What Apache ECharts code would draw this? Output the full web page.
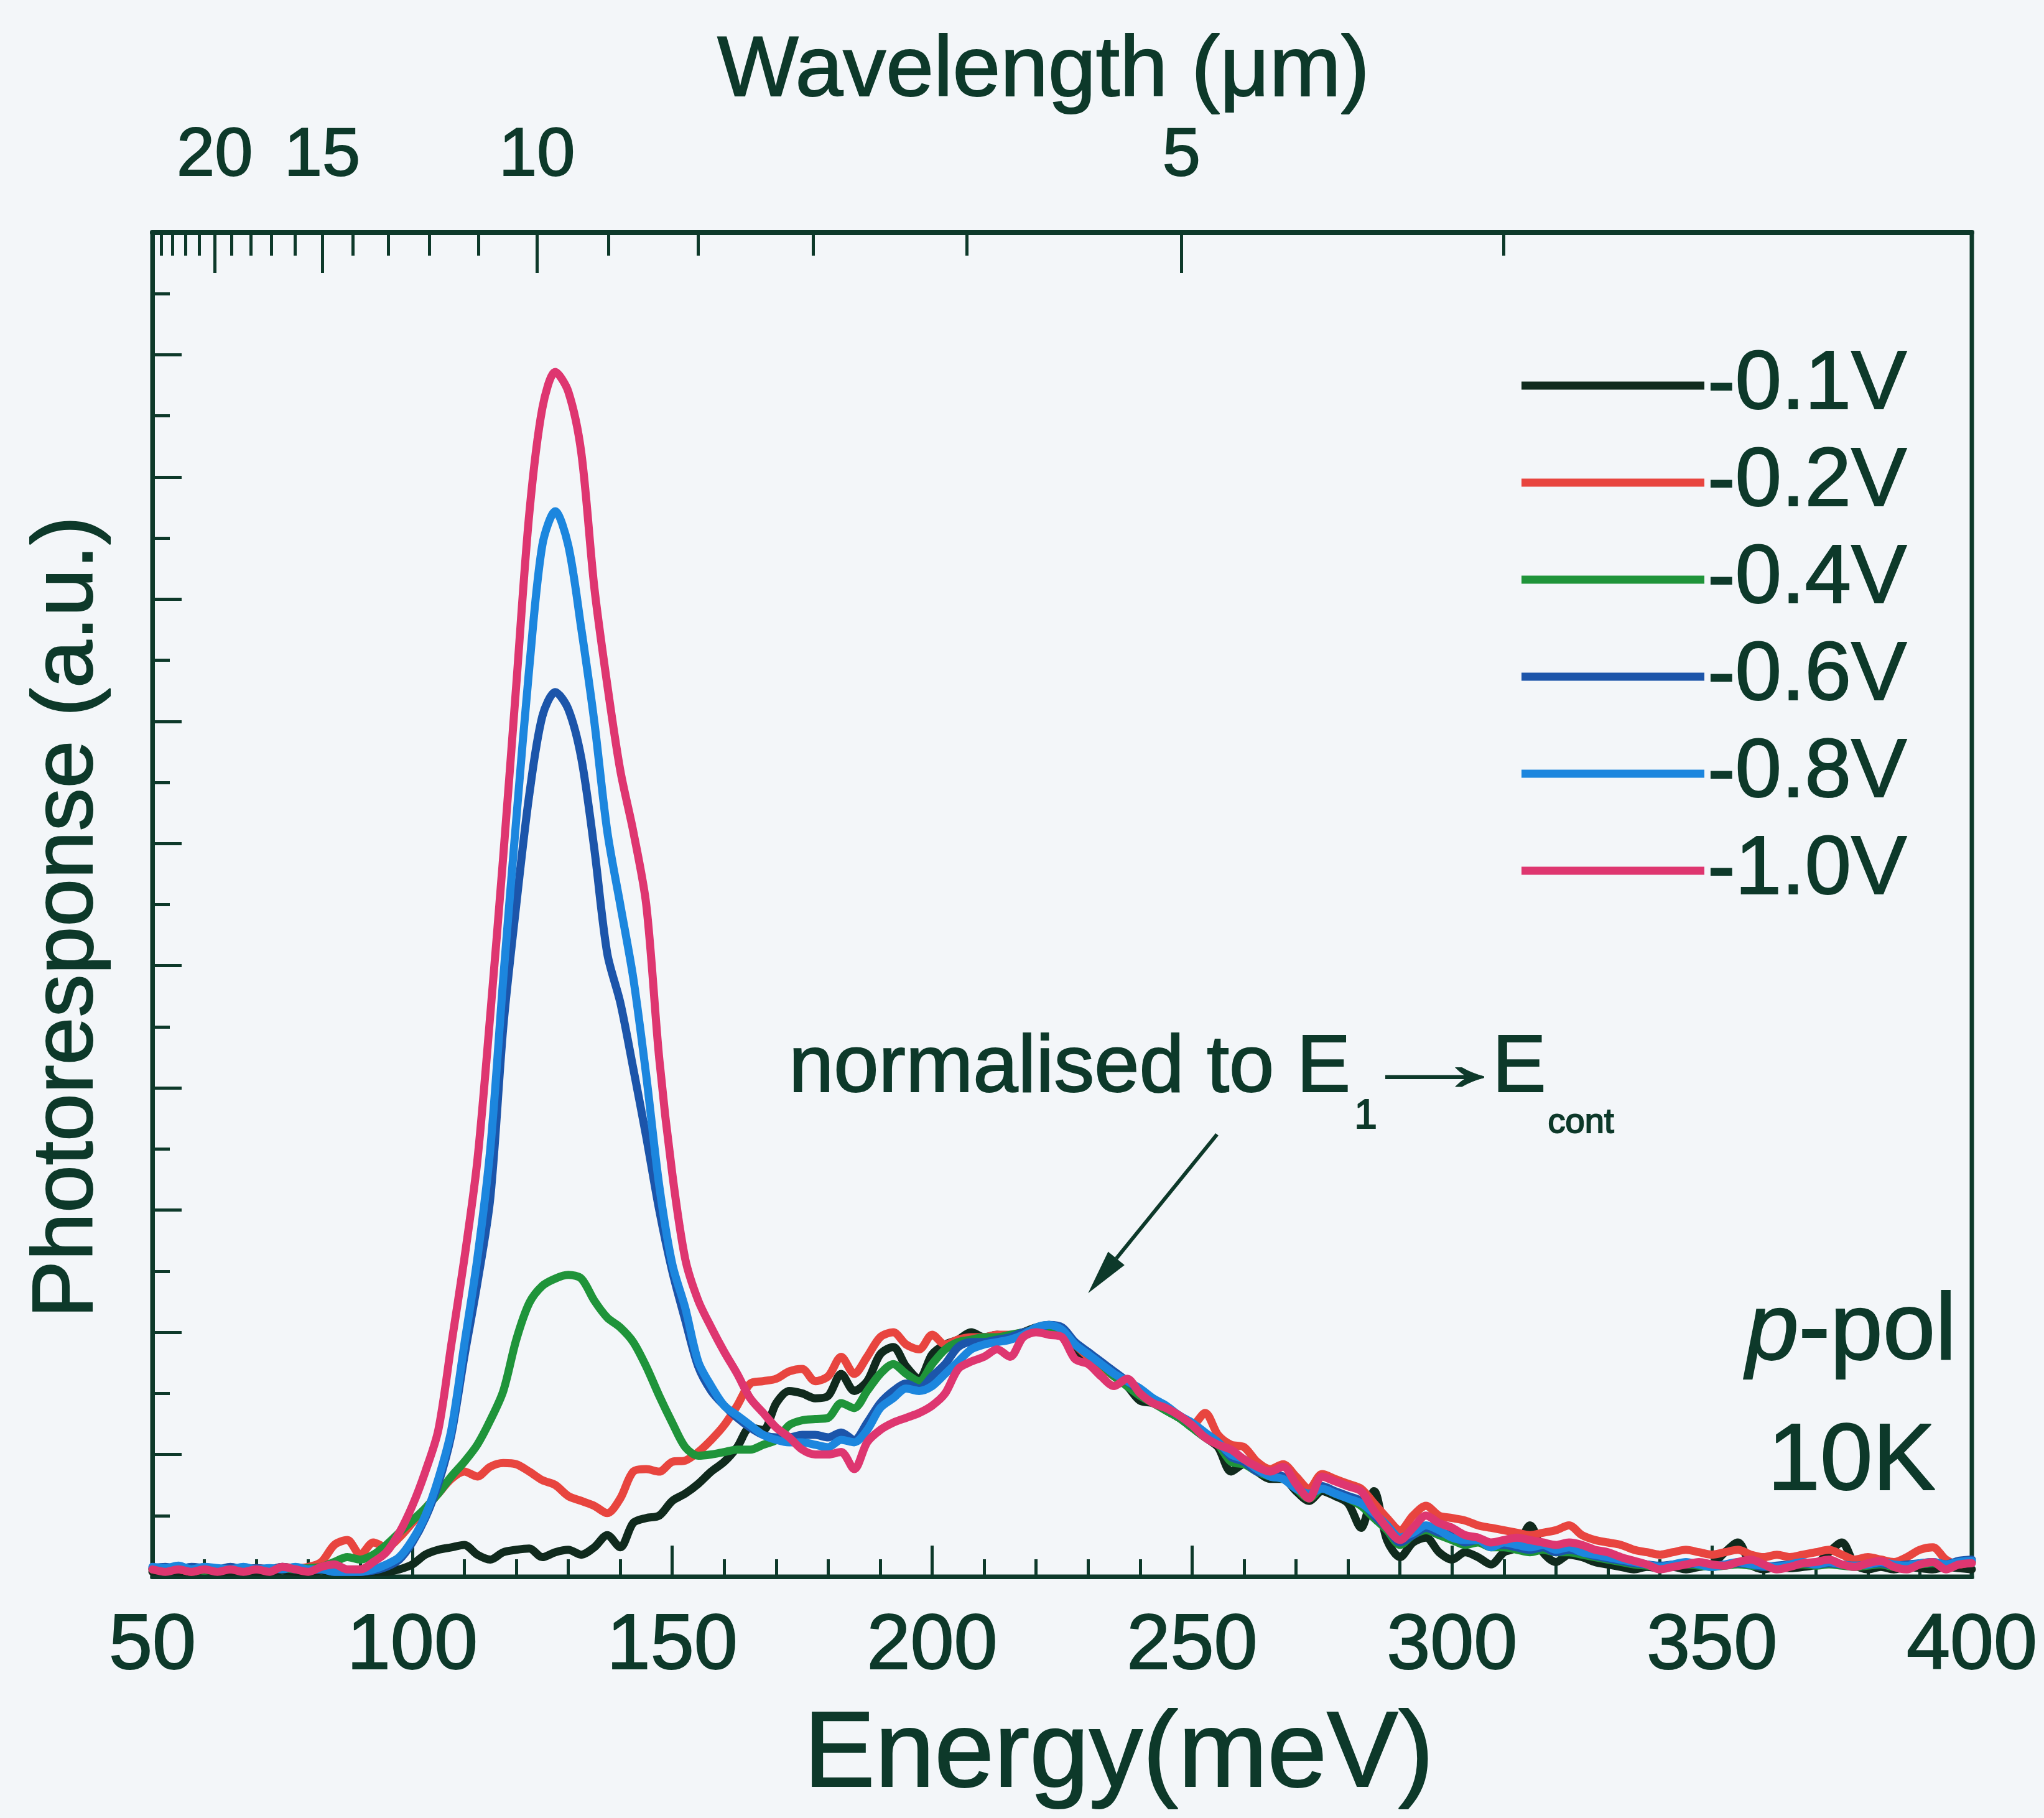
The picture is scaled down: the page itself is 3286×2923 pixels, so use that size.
<!DOCTYPE html>
<html>
<head>
<meta charset="utf-8">
<title>Photoresponse vs energy</title>
<script src="https://cdn.jsdelivr.net/npm/echarts@6/dist/echarts.min.js"></script>
<style>
  html, body { margin: 0; padding: 0; background: #f3f6f9; }
  #chart { width: 3286px; height: 2923px; }
</style>
</head>
<body>
<div id="chart"></div>
<script>
// Photon energy grid (meV)
const energy = [
  50, 52.5, 55, 57.5, 60, 62.5, 65, 67.5, 70, 72.5,
  75, 77.5, 80, 82.5, 85, 87.5, 90, 92.5, 95, 97.5,
  100, 102.5, 105, 107.5, 110, 112.5, 115, 117.5, 120, 122.5,
  125, 127.5, 130, 132.5, 135, 137.5, 140, 142.5, 145, 147.5,
  150, 152.5, 155, 157.5, 160, 162.5, 165, 167.5, 170, 172.5,
  175, 177.5, 180, 182.5, 185, 187.5, 190, 192.5, 195, 197.5,
  200, 202.5, 205, 207.5, 210, 212.5, 215, 217.5, 220, 222.5,
  225, 227.5, 230, 232.5, 235, 237.5, 240, 242.5, 245, 247.5,
  250, 252.5, 255, 257.5, 260, 262.5, 265, 267.5, 270, 272.5,
  275, 277.5, 280, 282.5, 285, 287.5, 290, 292.5, 295, 297.5,
  300, 302.5, 305, 307.5, 310, 312.5, 315, 317.5, 320, 322.5,
  325, 327.5, 330, 332.5, 335, 337.5, 340, 342.5, 345, 347.5,
  350, 352.5, 355, 357.5, 360, 362.5, 365, 367.5, 370, 372.5,
  375, 377.5, 380, 382.5, 385, 387.5, 390, 392.5, 395, 397.5,
  400
];

// Bias voltages (legend order)
const biasLabels = ['-0.1V', '-0.2V', '-0.4V', '-0.6V', '-0.8V', '-1.0V'];

// Photoresponse, normalised to the E1 -> Econt peak
const resp01 = [
  0.02, 0.025, 0.02, 0.02, 0.025, 0.02, 0.02, 0.025, 0.02, 0.02,
  0.025, 0.02, 0.02, 0.025, 0.02, 0.02, 0.015, 0.02, 0.02, 0.03,
  0.05, 0.09, 0.11, 0.12, 0.13, 0.09, 0.07, 0.10, 0.11, 0.115,
  0.08, 0.10, 0.11, 0.09, 0.12, 0.17, 0.12, 0.22, 0.24, 0.25,
  0.31, 0.34, 0.38, 0.43, 0.47, 0.53, 0.61, 0.60, 0.71, 0.76,
  0.75, 0.73, 0.74, 0.83, 0.76, 0.80, 0.91, 0.94, 0.86, 0.81,
  0.91, 0.95, 0.97, 1.00, 0.98, 0.99, 0.98, 1.00, 1.02, 1.03,
  1.00, 0.92, 0.90, 0.86, 0.82, 0.78, 0.72, 0.71, 0.68, 0.65,
  0.61, 0.57, 0.53, 0.43, 0.46, 0.43, 0.40, 0.40, 0.35, 0.31,
  0.35, 0.33, 0.30, 0.20, 0.35, 0.15, 0.08, 0.14, 0.16, 0.10,
  0.07, 0.10, 0.08, 0.05, 0.10, 0.12, 0.21, 0.10, 0.06, 0.09,
  0.08, 0.06, 0.05, 0.04, 0.03, 0.04, 0.035, 0.04, 0.03, 0.04,
  0.05, 0.10, 0.14, 0.05, 0.03, 0.04, 0.035, 0.04, 0.05, 0.10,
  0.14, 0.05, 0.03, 0.04, 0.03, 0.04, 0.035, 0.03, 0.04, 0.035,
  0.03
];
const resp02 = [
  0.03, 0.025, 0.03, 0.02, 0.03, 0.025, 0.03, 0.03, 0.035, 0.03,
  0.04, 0.035, 0.04, 0.06, 0.13, 0.15, 0.09, 0.14, 0.12, 0.16,
  0.22, 0.28, 0.34, 0.40, 0.43, 0.41, 0.45, 0.465, 0.46, 0.43,
  0.395, 0.375, 0.33, 0.31, 0.29, 0.26, 0.32, 0.43, 0.44, 0.43,
  0.47, 0.475, 0.51, 0.56, 0.62, 0.70, 0.79, 0.80, 0.81, 0.84,
  0.85, 0.80, 0.82, 0.90, 0.83, 0.90, 0.98, 1.00, 0.95, 0.93,
  0.99, 0.95, 0.97, 0.98, 0.98, 0.99, 0.99, 1.00, 1.01, 1.02,
  1.00, 0.95, 0.90, 0.86, 0.82, 0.79, 0.75, 0.72, 0.69, 0.66,
  0.62, 0.67, 0.58, 0.54, 0.53, 0.47, 0.44, 0.46, 0.41, 0.36,
  0.42, 0.40, 0.38, 0.36, 0.30, 0.24, 0.19, 0.25, 0.29, 0.25,
  0.24, 0.23, 0.21, 0.20, 0.19, 0.18, 0.17, 0.18, 0.19, 0.21,
  0.17, 0.15, 0.14, 0.13, 0.11, 0.10, 0.09, 0.10, 0.11, 0.10,
  0.09, 0.10, 0.11, 0.09, 0.08, 0.09, 0.08, 0.09, 0.10, 0.11,
  0.09, 0.07, 0.08, 0.07, 0.06, 0.08, 0.11, 0.12, 0.07, 0.05,
  0.06
];
const resp04 = [
  0.03, 0.025, 0.03, 0.03, 0.025, 0.03, 0.03, 0.025, 0.03, 0.03,
  0.035, 0.03, 0.035, 0.04, 0.06, 0.08, 0.07, 0.09, 0.13, 0.18,
  0.23, 0.28, 0.34, 0.41, 0.47, 0.54, 0.64, 0.76, 0.97, 1.12,
  1.19, 1.22, 1.235, 1.22, 1.13, 1.06, 1.02, 0.96, 0.86, 0.74,
  0.63, 0.53, 0.495, 0.50, 0.51, 0.52, 0.52, 0.54, 0.56, 0.62,
  0.64, 0.645, 0.65, 0.71, 0.69, 0.76, 0.83, 0.87, 0.83, 0.80,
  0.87, 0.93, 0.96, 0.97, 0.98, 0.98, 0.99, 1.00, 1.01, 1.02,
  1.01, 0.95, 0.91, 0.87, 0.82, 0.78, 0.74, 0.71, 0.68, 0.65,
  0.61, 0.57, 0.54, 0.47, 0.46, 0.43, 0.41, 0.40, 0.36, 0.32,
  0.36, 0.34, 0.32, 0.29, 0.24, 0.19, 0.13, 0.17, 0.19, 0.17,
  0.15, 0.13, 0.14, 0.12, 0.12, 0.11, 0.10, 0.11, 0.10, 0.10,
  0.09, 0.08, 0.07, 0.06, 0.05, 0.045, 0.04, 0.045, 0.05, 0.045,
  0.04, 0.045, 0.05, 0.045, 0.04, 0.04, 0.045, 0.05, 0.045, 0.05,
  0.045, 0.04, 0.045, 0.05, 0.04, 0.045, 0.05, 0.055, 0.045, 0.055,
  0.06
];
const resp06 = [
  0.035, 0.04, 0.03, 0.04, 0.035, 0.03, 0.04, 0.03, 0.035, 0.03,
  0.04, 0.03, 0.025, 0.03, 0.02, 0.02, 0.02, 0.025, 0.04, 0.07,
  0.14, 0.24, 0.38, 0.58, 0.90, 1.20, 1.55, 2.25, 2.75, 3.20,
  3.52, 3.62, 3.55, 3.35, 2.98, 2.55, 2.35, 2.08, 1.80, 1.50,
  1.25, 1.05, 0.86, 0.76, 0.70, 0.65, 0.61, 0.58, 0.57, 0.57,
  0.58, 0.58, 0.57, 0.59, 0.56, 0.63, 0.71, 0.76, 0.79, 0.77,
  0.82, 0.87, 0.94, 0.96, 0.96, 0.97, 0.98, 1.00, 1.01, 1.03,
  1.02, 0.96, 0.92, 0.88, 0.84, 0.80, 0.76, 0.72, 0.69, 0.66,
  0.62, 0.58, 0.55, 0.49, 0.47, 0.43, 0.42, 0.41, 0.37, 0.33,
  0.37, 0.35, 0.33, 0.31, 0.25, 0.20, 0.14, 0.17, 0.20, 0.18,
  0.17, 0.14, 0.15, 0.13, 0.13, 0.12, 0.11, 0.12, 0.10, 0.11,
  0.10, 0.085, 0.075, 0.065, 0.055, 0.05, 0.045, 0.05, 0.055, 0.05,
  0.045, 0.05, 0.055, 0.05, 0.04, 0.045, 0.05, 0.055, 0.05, 0.055,
  0.05, 0.045, 0.05, 0.055, 0.045, 0.05, 0.055, 0.06, 0.05, 0.065,
  0.07
];
const resp08 = [
  0.04, 0.035, 0.045, 0.03, 0.04, 0.035, 0.03, 0.04, 0.03, 0.035,
  0.03, 0.04, 0.03, 0.03, 0.02, 0.02, 0.02, 0.03, 0.05, 0.08,
  0.15, 0.25, 0.40, 0.60, 0.95, 1.30, 1.75, 2.45, 3.10, 3.72,
  4.22, 4.36, 4.22, 3.88, 3.50, 3.05, 2.75, 2.45, 2.05, 1.60,
  1.28, 1.10, 0.88, 0.78, 0.70, 0.66, 0.62, 0.58, 0.56, 0.55,
  0.55, 0.54, 0.53, 0.56, 0.55, 0.60, 0.69, 0.73, 0.77, 0.76,
  0.78, 0.83, 0.88, 0.93, 0.95, 0.96, 0.97, 0.99, 1.02, 1.03,
  1.01, 0.95, 0.91, 0.87, 0.83, 0.80, 0.77, 0.73, 0.70, 0.66,
  0.63, 0.59, 0.55, 0.50, 0.48, 0.44, 0.41, 0.40, 0.36, 0.34,
  0.36, 0.34, 0.32, 0.30, 0.26, 0.21, 0.16, 0.18, 0.21, 0.19,
  0.16, 0.15, 0.15, 0.12, 0.14, 0.13, 0.12, 0.13, 0.11, 0.12,
  0.10, 0.09, 0.08, 0.07, 0.06, 0.05, 0.04, 0.05, 0.06, 0.05,
  0.04, 0.05, 0.06, 0.05, 0.045, 0.04, 0.05, 0.06, 0.05, 0.06,
  0.05, 0.045, 0.05, 0.06, 0.05, 0.045, 0.055, 0.06, 0.05, 0.06,
  0.065
];
const resp10 = [
  0.03, 0.02, 0.03, 0.02, 0.03, 0.02, 0.03, 0.02, 0.03, 0.02,
  0.04, 0.03, 0.02, 0.04, 0.05, 0.03, 0.03, 0.06, 0.10, 0.18,
  0.29, 0.43, 0.60, 0.95, 1.30, 1.70, 2.30, 2.95, 3.65, 4.35,
  4.78, 4.93, 4.85, 4.60, 4.05, 3.65, 3.30, 3.05, 2.75, 2.12,
  1.65, 1.30, 1.13, 1.02, 0.92, 0.83, 0.73, 0.67, 0.61, 0.57,
  0.52, 0.50, 0.50, 0.51, 0.44, 0.55, 0.60, 0.63, 0.65, 0.67,
  0.70, 0.75, 0.85, 0.88, 0.90, 0.93, 0.90, 0.98, 1.00, 0.99,
  0.98, 0.89, 0.87, 0.82, 0.78, 0.81, 0.75, 0.71, 0.69, 0.66,
  0.62, 0.57, 0.54, 0.52, 0.48, 0.45, 0.43, 0.45, 0.38, 0.32,
  0.41, 0.39, 0.37, 0.35, 0.27, 0.20, 0.15, 0.20, 0.25, 0.22,
  0.20, 0.17, 0.16, 0.14, 0.15, 0.16, 0.15, 0.14, 0.13, 0.14,
  0.13, 0.11, 0.10, 0.08, 0.065, 0.05, 0.03, 0.04, 0.05, 0.06,
  0.05, 0.045, 0.06, 0.07, 0.05, 0.03, 0.04, 0.055, 0.06, 0.07,
  0.05, 0.04, 0.055, 0.065, 0.04, 0.03, 0.05, 0.06, 0.03, 0.05,
  0.055
];
const responses = [resp01, resp02, resp04, resp06, resp08, resp10];

// Wavelength scale on the top axis (µm)
const wavelengthLabelled = [20, 15, 10, 5];
const wavelengthMinor = [24, 23, 22, 21, 19, 18, 17, 16, 14, 13, 12, 11, 9, 8, 7, 6, 4];

// Annotation arrow, in (energy, response) units
const arrowFrom = [254.8, 1.81];
const arrowTo = [230.0, 1.16];

const HC = 1239.84; // meV·µm
const ink = '#0d392a';
const font = "'Liberation Sans', Arial, Helvetica, sans-serif";
const lineColors = ['#102a1d', '#e8453f', '#1f943a', '#1c55aa', '#1c86de', '#de3670'];
// slightly heavier glyphs for axis / legend text
const textHeavy = { textBorderColor: ink, textBorderWidth: 2 };
// same effect for free-standing text elements
const strokeHeavy = { stroke: ink, lineWidth: 2 };

const toEnergy = (um) => HC / um;

const chart = echarts.init(document.getElementById('chart'), null, { renderer: 'canvas' });

const option = {
  backgroundColor: '#f3f6f9',
  animation: false,
  textStyle: { fontFamily: font, color: ink },
  grid: {
    left: 245, top: 374, width: 2925, height: 2161,
    show: true, borderColor: ink, borderWidth: 7, backgroundColor: 'transparent'
  },
  legend: {
    orient: 'vertical',
    left: 2441, top: 547,
    itemWidth: 294, itemHeight: 13, itemGap: 20,
    icon: 'rect',
    selectedMode: false,
    data: biasLabels,
    textStyle: Object.assign({ color: ink, fontSize: 134, fontFamily: font, lineHeight: 134 }, textHeavy)
  },
  xAxis: [
    {
      type: 'value', position: 'bottom', min: 50, max: 400, interval: 50,
      axisLine: { show: true, lineStyle: { color: ink, width: 7 } },
      axisTick: { show: true, inside: true, length: 50, lineStyle: { color: ink, width: 5 } },
      minorTick: { show: true, splitNumber: 5, length: 28, lineStyle: { color: ink, width: 5 } },
      splitLine: { show: false },
      axisLabel: Object.assign({
        color: ink, fontSize: 126, fontFamily: font, margin: 50,
        showMinLabel: true, showMaxLabel: true, hideOverlap: false
      }, textHeavy),
      name: 'Energy(meV)', nameLocation: 'middle', nameGap: 204,
      nameTextStyle: Object.assign({ color: ink, fontSize: 172, fontFamily: font, padding: [0, 0, 0, 182] }, textHeavy)
    },
    {
      type: 'value', position: 'top', min: 50, max: 400,
      axisLine: { show: true, lineStyle: { color: ink, width: 8 } },
      axisTick: {
        show: true, inside: true, length: 65, lineStyle: { color: ink, width: 5 },
        customValues: wavelengthLabelled.map(toEnergy)
      },
      axisLabel: Object.assign({
        show: true, color: ink, fontSize: 110, fontFamily: font, margin: 67,
        customValues: wavelengthLabelled.map(toEnergy),
        formatter: (v) => String(Math.round(HC / v))
      }, textHeavy),
      splitLine: { show: false },
      name: 'Wavelength (μm)', nameLocation: 'middle', nameGap: 189,
      nameTextStyle: Object.assign({ color: ink, fontSize: 138, fontFamily: font, padding: [0, 60, 0, 0] }, textHeavy)
    },
    {
      type: 'value', position: 'top', min: 50, max: 400,
      axisLine: { show: false },
      axisTick: {
        show: true, inside: true, length: 37, lineStyle: { color: ink, width: 5 },
        customValues: wavelengthMinor.map(toEnergy)
      },
      axisLabel: { show: false },
      splitLine: { show: false }
    }
  ],
  yAxis: [
    {
      type: 'value', min: 0, max: 5.5, interval: 0.5,
      axisLine: { show: true, lineStyle: { color: ink, width: 7 } },
      axisTick: { show: true, inside: true, length: 47, lineStyle: { color: ink, width: 5 } },
      minorTick: { show: true, splitNumber: 2, length: 28, lineStyle: { color: ink, width: 5 } },
      splitLine: { show: false },
      axisLabel: { show: false },
      name: 'Photoresponse (a.u.)', nameLocation: 'middle', nameGap: 66,
      nameTextStyle: Object.assign({ color: ink, fontSize: 138, fontFamily: font, padding: [0, 40, 0, 0] }, textHeavy)
    }
  ],
  series: biasLabels.map((label, k) => ({
    name: label,
    type: 'line',
    xAxisIndex: 0, yAxisIndex: 0,
    data: energy.map((e, i) => [e, responses[k][i]]),
    showSymbol: false, symbol: 'none',
    smooth: 0.3,
    silent: true,
    lineStyle: { color: lineColors[k], width: 13, join: 'round', cap: 'round' },
    itemStyle: { color: lineColors[k] },
    emphasis: { disabled: true },
    z: 2 + k
  }))
};

chart.setOption(option);

// Annotation: arrow to the E1 -> Econt maximum, labels and measurement conditions
const p0 = chart.convertToPixel({ seriesIndex: 0 }, arrowFrom);
const p1 = chart.convertToPixel({ seriesIndex: 0 }, arrowTo);
const ang = Math.atan2(p1[1] - p0[1], p1[0] - p0[0]);
const headLen = 72, headW = 34;
const bx = p1[0] - headLen * Math.cos(ang);
const by = p1[1] - headLen * Math.sin(ang);
const nx = -Math.sin(ang) * headW / 2;
const ny = Math.cos(ang) * headW / 2;

// chain the pieces of the "normalised to E1→Econt" label
const ctx = document.createElement('canvas').getContext('2d');
function textWidth(str, size, family) {
  ctx.font = size + 'px ' + (family || font);
  return ctx.measureText(str).width;
}
const mainSize = 130;
const baseY = 1765;
const arrowAdvance = 265;
const pieces = [
  { t: 'normalised to E', size: mainSize, dy: 0, gap: 6, heavy: true },
  { t: '1', size: 66, dy: 54, gap: -40, heavy: true },
  { t: '→', size: mainSize, dy: -2, gap: -40, width: arrowAdvance, heavy: false },
  { t: 'E', size: mainSize, dy: 0, gap: 3, heavy: true },
  { t: 'cont', size: 56, dy: 60, gap: 0, heavy: true }
];
let cx = 1268;
const labelEls = pieces.map((p) => {
  const w = textWidth(p.t, p.size);
  const sx = p.width ? p.width / w : 1;
  const el = {
    type: 'text', x: cx, y: baseY + p.dy - 0.35 * p.size, z: 20,
    scaleX: sx,
    style: Object.assign({
      text: p.t, fontSize: p.size, fontFamily: font, fill: ink,
      align: 'left', verticalAlign: 'middle'
    }, p.heavy ? strokeHeavy : { stroke: ink, lineWidth: 1 })
  };
  cx += w * sx + p.gap;
  return el;
});

chart.setOption({
  graphic: [
    {
      type: 'line', z: 20,
      shape: { x1: p0[0], y1: p0[1], x2: bx, y2: by },
      style: { stroke: ink, lineWidth: 6 }
    },
    {
      type: 'polygon', z: 20,
      shape: { points: [[p1[0], p1[1]], [bx + nx, by + ny], [bx - nx, by - ny]] },
      style: { fill: ink }
    },
    ...labelEls,
    {
      type: 'text', x: 3145, y: 2196 - 0.35 * 152, z: 20,
      style: Object.assign({
        text: '{i|p}-pol', fontSize: 152, fontFamily: font, fill: ink,
        align: 'right', verticalAlign: 'middle',
        rich: { i: Object.assign({ fontStyle: 'italic', fontSize: 152, fontFamily: font, fill: ink }, strokeHeavy) }
      }, strokeHeavy)
    },
    {
      type: 'text', x: 3112, y: 2406 - 0.35 * 152, z: 20,
      style: Object.assign({
        text: '10K', fontSize: 152, fontFamily: font, fill: ink, align: 'right', verticalAlign: 'middle'
      }, strokeHeavy)
    }
  ]
});
</script>
</body>
</html>
